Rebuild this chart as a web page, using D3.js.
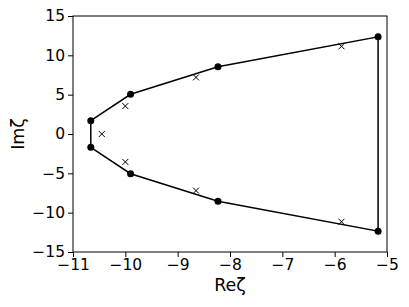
<!DOCTYPE html>
<html>
<head>
<meta charset="utf-8">
<script src="https://cdn.jsdelivr.net/npm/d3@7"></script>
<style>
  body { margin: 0; background: #fff; }
  svg { display: block; font-family: "DejaVu Sans", sans-serif; }
</style>
</head>
<body>
<svg width="409" height="307"></svg>
<script>
// boundary vertices (dots), closed polygon
const polyRe = [-10.66, -9.9, -8.23, -5.17, -5.17, -8.23, -9.9, -10.66];
const polyIm = [1.7, 5.05, 8.55, 12.35, -12.35, -8.55, -5.05, -1.7];

// crosses
const crossRe = [-10.45, -10.0, -8.65, -5.87, -10.0, -8.65, -5.87];
const crossIm = [0, 3.55, 7.2, 11.15, -3.55, -7.2, -11.15];

const xTicks = [-11, -10, -9, -8, -7, -6, -5];
const yTicks = [-15, -10, -5, 0, 5, 10, 15];

const margin = { left: 73, right: 22, top: 16, bottom: 55 };
const width = 409, height = 307;

const svg = d3.select("svg");

const x = d3.scaleLinear().domain([-11, -5]).range([margin.left, width - margin.right]);
const y = d3.scaleLinear().domain([-15, 15]).range([height - margin.bottom, margin.top]);

const fmt = (d) => (d < 0 ? "\u2212" + Math.abs(d) : String(d));

const xAxis = svg.append("g")
  .attr("transform", `translate(0,${height - margin.bottom})`)
  .call(d3.axisBottom(x).tickValues(xTicks).tickFormat(fmt).tickSize(5).tickPadding(2));

const yAxis = svg.append("g")
  .attr("transform", `translate(${margin.left},0)`)
  .call(d3.axisLeft(y).tickValues(yTicks).tickFormat(fmt).tickSize(5).tickPadding(3));

[xAxis, yAxis].forEach((g) => {
  g.select(".domain").remove();
  g.selectAll("text").attr("font-size", 15.5).attr("font-family", "DejaVu Sans").attr("fill", "#000");
  g.selectAll("line").attr("stroke", "#000").attr("stroke-width", 1);
});

// frame
svg.append("rect")
  .attr("x", x(-11)).attr("y", y(15))
  .attr("width", x(-5) - x(-11)).attr("height", y(-15) - y(15))
  .attr("fill", "none").attr("stroke", "#000").attr("stroke-width", 1);

const pts = polyRe.map((d, i) => [d, polyIm[i]]);

svg.append("path")
  .attr("d", d3.line().x((d) => x(d[0])).y((d) => y(d[1])).curve(d3.curveLinearClosed)(pts))
  .attr("fill", "none").attr("stroke", "#000").attr("stroke-width", 1.5);

svg.append("g").selectAll("circle")
  .data(pts).join("circle")
  .attr("cx", (d) => x(d[0])).attr("cy", (d) => y(d[1]))
  .attr("r", 3.5).attr("fill", "#000");

const cs = 3;
svg.append("g").selectAll("path")
  .data(crossRe.map((d, i) => [d, crossIm[i]])).join("path")
  .attr("d", (d) => {
    const cx = x(d[0]), cy = y(d[1]);
    return `M${cx - cs},${cy - cs}L${cx + cs},${cy + cs}M${cx - cs},${cy + cs}L${cx + cs},${cy - cs}`;
  })
  .attr("stroke", "#000").attr("stroke-width", 1).attr("fill", "none");

svg.append("text")
  .attr("x", (x(-11) + x(-5)) / 2).attr("y", 291)
  .attr("text-anchor", "middle").attr("font-size", 17.5)
  .text("Re\u03b6");

svg.append("text")
  .attr("transform", `translate(24,${(y(15) + y(-15)) / 2}) rotate(-90)`)
  .attr("text-anchor", "middle").attr("font-size", 17.5)
  .text("Im\u03b6");
</script>
</body>
</html>
